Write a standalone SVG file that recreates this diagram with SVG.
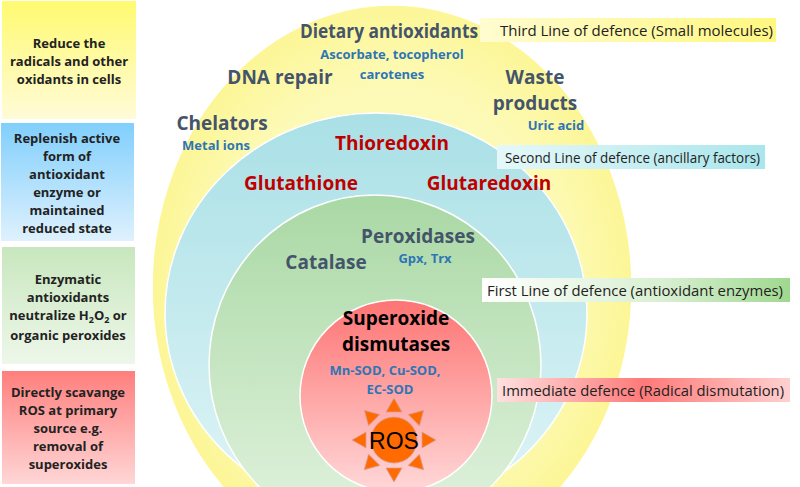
<svg xmlns="http://www.w3.org/2000/svg" width="800" height="487" viewBox="0 0 800 487">
<defs>
<linearGradient id="gy" x1="0" y1="0" x2="0" y2="1"><stop offset="0" stop-color="#fffa70"/><stop offset="1" stop-color="#fffbd8"/></linearGradient>
<linearGradient id="gb" x1="0" y1="0" x2="0" y2="1"><stop offset="0" stop-color="#80cffc"/><stop offset="1" stop-color="#dff1fd"/></linearGradient>
<linearGradient id="gg" x1="0" y1="0" x2="0" y2="1"><stop offset="0" stop-color="#c8e7be"/><stop offset="1" stop-color="#eef7ea"/></linearGradient>
<linearGradient id="gr" x1="0" y1="0" x2="0" y2="1"><stop offset="0" stop-color="#fe7f7d"/><stop offset="1" stop-color="#ffd6d6"/></linearGradient>
<radialGradient id="cy" cx="0.5" cy="0.5" r="0.5"><stop offset="0.7" stop-color="#fdfab8"/><stop offset="1" stop-color="#fcf696"/></radialGradient>
<linearGradient id="cc" x1="0" y1="0" x2="0" y2="1"><stop offset="0" stop-color="#a9e0e6"/><stop offset="1" stop-color="#e0f5f7"/></linearGradient>
<linearGradient id="cg" x1="0" y1="0" x2="0" y2="1"><stop offset="0" stop-color="#a9d8a4"/><stop offset="1" stop-color="#e3f3e0"/></linearGradient>
<linearGradient id="cr" x1="0" y1="0" x2="0" y2="1"><stop offset="0" stop-color="#fd7473"/><stop offset="1" stop-color="#ffd8d8"/></linearGradient>
<linearGradient id="ly" x1="0" y1="0" x2="1" y2="0"><stop offset="0" stop-color="#fffcd0"/><stop offset="1" stop-color="#fff780"/></linearGradient>
<linearGradient id="lc" x1="0" y1="0" x2="1" y2="0"><stop offset="0" stop-color="#e6f8f9"/><stop offset="1" stop-color="#a9e6ec"/></linearGradient>
<linearGradient id="lg" x1="0" y1="0" x2="1" y2="0"><stop offset="0" stop-color="#fff"/><stop offset="0.6" stop-color="#d7efd0"/><stop offset="1" stop-color="#9fd88f"/></linearGradient>
<linearGradient id="lr" x1="0" y1="0" x2="1" y2="0"><stop offset="0" stop-color="#ffe0e0"/><stop offset="0.5" stop-color="#fe7a79"/><stop offset="1" stop-color="#ffd0d0"/></linearGradient>
<polygon id="ray" points="-8,-28 8,-28 0,-42"/>
</defs>
<style>
text{font-family:"Open Sans","Liberation Sans",sans-serif;text-anchor:middle}
.lb{font-size:13px;font-weight:bold;fill:#222}
.big{font-size:19px;font-weight:bold;fill:#44546a}
.red{font-size:19px;font-weight:bold;fill:#c00000}
.blue{font-size:13px;font-weight:bold;fill:#2e75b6}
.rl{font-size:15px;fill:#222;text-anchor:start}
.circ{stroke:#fff;stroke-width:1.5}
</style>
<rect width="800" height="487" fill="#fff"/>
<g id="box1"><rect x="2" y="1" width="134" height="118" fill="url(#gy)"/><text class="lb" x="69" y="48">Reduce the</text><text class="lb" x="69" y="66">radicals and other</text><text class="lb" x="69" y="84">oxidants in cells</text></g>
<g id="box2"><rect x="1" y="123" width="133" height="118" fill="url(#gb)"/><text class="lb" x="67" y="143">Replenish active</text><text class="lb" x="67" y="161">form of</text><text class="lb" x="67" y="179">antioxidant</text><text class="lb" x="67" y="197">enzyme or</text><text class="lb" x="67" y="215">maintained</text><text class="lb" x="67" y="233">reduced state</text></g>
<g id="box3"><rect x="2" y="247" width="133" height="117" fill="url(#gg)"/><text class="lb" x="68" y="284">Enzymatic</text><text class="lb" x="68" y="302">antioxidants</text><text class="lb" x="68" y="320">neutralize H<tspan font-size="9" dy="3">2</tspan><tspan dy="-3">O</tspan><tspan font-size="9" dy="3">2</tspan><tspan dy="-3"> or</tspan></text><text class="lb" x="68" y="340">organic peroxides</text></g>
<g id="box4"><rect x="2" y="371" width="133" height="113" fill="url(#gr)"/><text class="lb" x="68" y="397">Directly scavange</text><text class="lb" x="68" y="415">ROS at primary</text><text class="lb" x="68" y="433">source e.g.</text><text class="lb" x="68" y="451">removal of</text><text class="lb" x="68" y="469">superoxides</text></g>
<g id="third"><ellipse class="circ" cx="392" cy="287" rx="240" ry="282" fill="url(#cy)"/>
<text class="big" x="389" y="38" textLength="178" lengthAdjust="spacingAndGlyphs">Dietary antioxidants</text>
<text class="blue" x="392" y="59">Ascorbate, tocopherol</text><text class="blue" x="392" y="79">carotenes</text>
<text class="big" x="280" y="84">DNA repair</text>
<text class="big" x="535" y="84">Waste</text><text class="big" x="535" y="110">products</text>
<text class="blue" x="556" y="130">Uric acid</text>
<text class="big" x="222" y="130">Chelators</text><text class="blue" x="216" y="150">Metal ions</text></g>
<g id="second"><ellipse class="circ" cx="376" cy="313" rx="211" ry="200" fill="url(#cc)"/>
<text class="red" x="392" y="150">Thioredoxin</text><text class="red" x="301" y="190">Glutathione</text><text class="red" x="489" y="190">Glutaredoxin</text></g>
<g id="first"><ellipse class="circ" cx="375" cy="365" rx="166" ry="170" fill="url(#cg)"/>
<text class="big" x="418" y="243">Peroxidases</text><text class="blue" x="425" y="263">Gpx, Trx</text><text class="big" x="326" y="269">Catalase</text></g>
<g id="immediate"><circle class="circ" cx="396" cy="396" r="96" fill="url(#cr)"/>
<text x="396" y="325" style="font-size:19px;font-weight:bold;fill:#000">Superoxide</text><text x="396" y="351" style="font-size:19px;font-weight:bold;fill:#000">dismutases</text>
<text class="blue" x="385" y="375">Mn-SOD, Cu-SOD,</text><text class="blue" x="390" y="394">EC-SOD</text></g>
<g id="ros" fill="#ff6b00" stroke="#d9a0a0" stroke-width="0.8">
<g transform="translate(394,440)">
<use href="#ray"/><use href="#ray" transform="rotate(45)"/><use href="#ray" transform="rotate(90)"/><use href="#ray" transform="rotate(135)"/><use href="#ray" transform="rotate(180)"/><use href="#ray" transform="rotate(225)"/><use href="#ray" transform="rotate(270)"/><use href="#ray" transform="rotate(315)"/>
<circle r="23"/></g>
<text x="394" y="449" stroke="none" style="font-size:23px;fill:#000;font-family:'Liberation Sans',sans-serif">ROS</text></g>
<g id="labels">
<rect x="480" y="18" width="296" height="24" fill="url(#ly)"/><text class="rl" x="500" y="36">Third Line of defence (Small molecules)</text>
<rect x="497" y="145" width="268" height="24" fill="url(#lc)"/><text class="rl" x="505" y="163" textLength="255" lengthAdjust="spacingAndGlyphs">Second Line of defence (ancillary factors)</text>
<rect x="482" y="278" width="308" height="24" fill="url(#lg)"/><text class="rl" x="487" y="296" textLength="296" lengthAdjust="spacingAndGlyphs">First Line of defence  (antioxidant enzymes)</text>
<rect x="497" y="378" width="293" height="24" fill="url(#lr)"/><text class="rl" x="502" y="396" textLength="282" lengthAdjust="spacingAndGlyphs">Immediate defence (Radical dismutation)</text>
</g>
</svg>
